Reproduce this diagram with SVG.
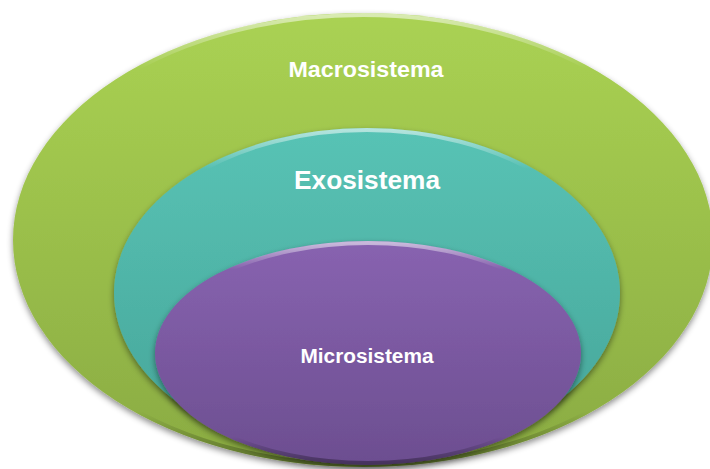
<svg xmlns="http://www.w3.org/2000/svg" width="710" height="469" viewBox="0 0 710 469">
  <defs>
    <linearGradient id="gGreen" x1="0" y1="0" x2="0" y2="1">
      <stop offset="0" stop-color="#AAD253"/>
      <stop offset="1" stop-color="#8AAB42"/>
    </linearGradient>
    <linearGradient id="gTeal" x1="0" y1="0" x2="0" y2="1">
      <stop offset="0" stop-color="#58C3B5"/>
      <stop offset="1" stop-color="#46A498"/>
    </linearGradient>
    <linearGradient id="gPurple" x1="0" y1="0" x2="0" y2="1">
      <stop offset="0" stop-color="#8863B0"/>
      <stop offset="1" stop-color="#6C4E90"/>
    </linearGradient>
    <linearGradient id="hl" x1="0" y1="0" x2="0" y2="1">
      <stop offset="0" stop-color="#ffffff" stop-opacity="0.55"/>
      <stop offset="0.12" stop-color="#ffffff" stop-opacity="0"/>
      <stop offset="0.88" stop-color="#000000" stop-opacity="0"/>
      <stop offset="1" stop-color="#000000" stop-opacity="0.35"/>
    </linearGradient>
    <filter id="sh" x="-10%" y="-10%" width="120%" height="125%">
      <feDropShadow dx="0" dy="3" stdDeviation="3" flood-color="#000" flood-opacity="0.45"/>
    </filter>
  </defs>
  <style>
    .lbl { font-family: "Liberation Sans", Arial, sans-serif; font-weight: bold; fill: #ffffff; text-anchor: middle; }
    .rim { fill: none; stroke: url(#hl); stroke-width: 4; }
  </style>
  <rect width="710" height="469" fill="#ffffff"/>
  <g id="macrosistema">
    <ellipse cx="363" cy="240" rx="350" ry="227" fill="url(#gGreen)" filter="url(#sh)"/>
    <ellipse cx="363" cy="240" rx="348" ry="225" class="rim"/>
    <text class="lbl" x="366" y="77" font-size="22" textLength="155" lengthAdjust="spacingAndGlyphs">Macrosistema</text>
  </g>
  <g id="exosistema">
    <ellipse cx="367" cy="293" rx="253" ry="165" fill="url(#gTeal)" filter="url(#sh)"/>
    <ellipse cx="367" cy="293" rx="251" ry="163" class="rim"/>
    <text class="lbl" x="367" y="189" font-size="25" textLength="146" lengthAdjust="spacingAndGlyphs">Exosistema</text>
  </g>
  <g id="microsistema">
    <ellipse cx="368" cy="353" rx="213" ry="112" fill="url(#gPurple)" filter="url(#sh)"/>
    <ellipse cx="368" cy="353" rx="211" ry="110" class="rim"/>
    <text class="lbl" x="367" y="363" font-size="20" textLength="133" lengthAdjust="spacingAndGlyphs">Microsistema</text>
  </g>
  <g id="connectors"/>
</svg>
